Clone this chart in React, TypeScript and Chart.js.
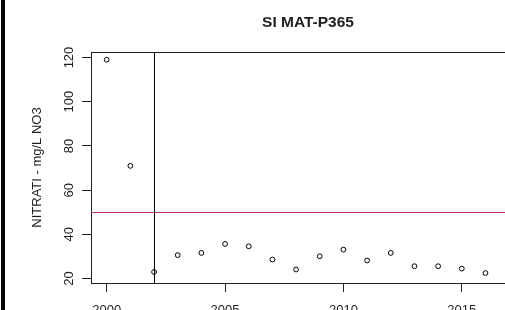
import React, { useEffect, useRef } from "react";
import { Chart, registerables } from "chart.js";

Chart.register(...registerables);

const titleText = "SI MAT-P365";
const yAxisTitle = "NITRATI - mg/L NO3";
const years = [2000, 2001, 2002, 2003, 2004, 2005, 2006, 2007, 2008, 2009, 2010, 2011, 2012, 2013, 2014, 2015, 2016];
const nitrate = [119, 71, 23, 30.6, 31.6, 35.7, 34.6, 28.6, 24.1, 30.1, 33.1, 28.2, 31.6, 25.6, 25.6, 24.5, 22.5];
const xTicks = [2000, 2005, 2010, 2015];
const yTicks = [20, 40, 60, 80, 100, 120];
const limitValues = [50];
const markerYears = [2002];

const FONT = "'Liberation Sans', Arial, sans-serif";
const INK = "#1e1e1e";

export default function App() {
  const ref = useRef<HTMLCanvasElement | null>(null);

  useEffect(() => {
    if (!ref.current) return;

    const decor = {
      id: "decor",
      beforeDraw(chart: any) {
        const ctx = chart.ctx;
        ctx.save();
        ctx.fillStyle = "#000";
        ctx.fillRect(1, 0, 4, chart.height);
        ctx.restore();
      },
      beforeDatasetsDraw(chart: any) {
        const ctx = chart.ctx;
        const { left, right, top, bottom } = chart.chartArea;
        const xs = chart.scales.x;
        const ys = chart.scales.y;
        ctx.save();
        ctx.lineWidth = 1;
        ctx.strokeStyle = INK;
        ctx.beginPath();
        ctx.moveTo(left, Math.round(top) + 0.5);
        ctx.lineTo(chart.width, Math.round(top) + 0.5);
        ctx.stroke();
        ctx.strokeStyle = "#b8364f";
        limitValues.forEach((v) => {
          const py = Math.round(ys.getPixelForValue(v)) + 0.5;
          ctx.beginPath();
          ctx.moveTo(left, py);
          ctx.lineTo(chart.width, py);
          ctx.stroke();
        });
        ctx.strokeStyle = "#000";
        markerYears.forEach((v) => {
          const px = Math.round(xs.getPixelForValue(v)) + 0.5;
          ctx.beginPath();
          ctx.moveTo(px, top);
          ctx.lineTo(px, bottom);
          ctx.stroke();
        });
        ctx.beginPath();
        ctx.restore();
      },
      afterDraw(chart: any) {
        const ctx = chart.ctx;
        const { left, right, top, bottom } = chart.chartArea;
        const ys = chart.scales.y;
        ctx.save();
        ctx.fillStyle = INK;
        ctx.font = `bold 15.5px ${FONT}`;
        ctx.textAlign = "center";
        ctx.textBaseline = "alphabetic";
        ctx.fillText(titleText, (left + right) / 2, 26.5);
        ctx.font = `13px ${FONT}`;
        yTicks.forEach((v) => {
          const py = ys.getPixelForValue(v);
          ctx.save();
          ctx.translate(left - 18.5, py);
          ctx.rotate(-Math.PI / 2);
          ctx.textAlign = "center";
          ctx.fillText(String(v), 0, 0);
          ctx.restore();
        });
        ctx.save();
        ctx.translate(left - 50, (top + bottom) / 2);
        ctx.rotate(-Math.PI / 2);
        ctx.textAlign = "center";
        ctx.fillText(yAxisTitle, 0, 0);
        ctx.restore();
        ctx.restore();
      },
    };

    const chart = new Chart(ref.current, {
      type: "scatter",
      data: {
        datasets: [
          {
            data: years.map((x, i) => ({ x, y: nitrate[i] })),
            pointStyle: "circle",
            pointRadius: 2.4,
            pointBorderWidth: 1,
            pointBorderColor: "#000",
            pointBackgroundColor: "rgba(255,255,255,0)",
          },
        ],
      },
      options: {
        responsive: false,
        animation: false,
        layout: { padding: { top: 52, left: 0, right: 15, bottom: 0 } },
        plugins: {
          legend: { display: false },
          tooltip: { enabled: false },
          title: { display: false },
        },
        scales: {
          x: {
            type: "linear",
            position: "bottom",
            min: 1999.337,
            max: 2017.67,
            afterBuildTicks: (scale: any) => {
              scale.ticks = xTicks.map((value) => ({ value }));
            },
            afterFit: (scale: any) => {
              scale.height = 47;
            },
            grid: {
              display: true,
              drawOnChartArea: false,
              drawTicks: true,
              tickLength: 9,
              color: INK,
            },
            border: { display: true, color: INK, width: 1 },
            ticks: {
              color: INK,
              font: { family: FONT, size: 13 },
              padding: 11,
              maxRotation: 0,
              autoSkip: false,
              callback: (v: any) => String(v),
            },
          },
          y: {
            type: "linear",
            position: "left",
            min: 18.0,
            max: 122.5,
            afterBuildTicks: (scale: any) => {
              scale.ticks = yTicks.map((value) => ({ value }));
            },
            afterFit: (scale: any) => {
              scale.width = 91;
            },
            grid: {
              display: true,
              drawOnChartArea: false,
              drawTicks: true,
              tickLength: 9,
              color: INK,
            },
            border: { display: true, color: INK, width: 1 },
            ticks: { display: false },
          },
        },
      },
      plugins: [decor],
    });

    return () => chart.destroy();
  }, []);

  return (
    <div
      style={{
        position: "fixed",
        left: 0,
        top: 0,
        width: 505,
        height: 310,
        overflow: "hidden",
        background: "#fff",
      }}
    >
      <canvas ref={ref} width={540} height={330} style={{ display: "block" }} />
    </div>
  );
}
